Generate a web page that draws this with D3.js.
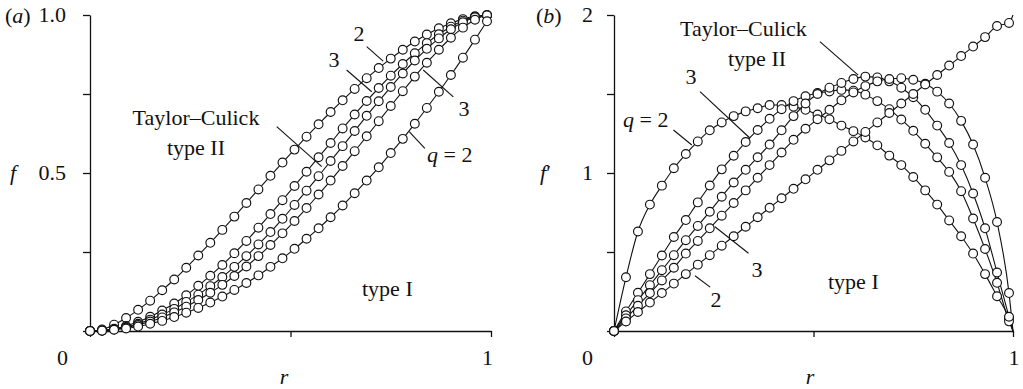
<!DOCTYPE html>
<html>
<head>
<meta charset="utf-8">
<script src="https://cdn.jsdelivr.net/npm/d3@7"></script>
<style>
  html, body { margin: 0; padding: 0; background: #fff; }
  svg { display: block; }
  svg text { font-family: "Liberation Serif", "DejaVu Serif", serif; }
</style>
</head>
<body>
<svg id="chart" width="1023" height="389"></svg>
<script>
// Sample radii (markers every 0.03 from r = 0 to 0.99)
const rSamples = [0, 0.03, 0.06, 0.09, 0.12, 0.15, 0.18, 0.21, 0.24, 0.27, 0.30, 0.33,
  0.36, 0.39, 0.42, 0.45, 0.48, 0.51, 0.54, 0.57, 0.60, 0.63, 0.66, 0.69, 0.72, 0.75,
  0.78, 0.81, 0.84, 0.87, 0.90, 0.93, 0.96, 0.99];

// Profiles f(r)
const fTypeIIq2 = [0, 0.005, 0.020, 0.041, 0.067, 0.096, 0.129, 0.163, 0.200, 0.239, 0.279, 0.320,
  0.362, 0.405, 0.448, 0.491, 0.533, 0.574, 0.615, 0.654, 0.693, 0.730, 0.766, 0.800, 0.832, 0.862,
  0.890, 0.916, 0.938, 0.958, 0.974, 0.987, 0.996, 0.999];
const fTypeIIq3 = [0, 0.002, 0.007, 0.016, 0.029, 0.045, 0.065, 0.087, 0.113, 0.143, 0.175, 0.209,
  0.246, 0.285, 0.327, 0.370, 0.414, 0.459, 0.504, 0.550, 0.595, 0.641, 0.685, 0.728, 0.769, 0.808,
  0.845, 0.879, 0.911, 0.939, 0.963, 0.982, 0.994, 0.999];
const fTaylorCulick = [0, 0.002, 0.006, 0.013, 0.023, 0.036, 0.052, 0.070, 0.092, 0.115, 0.142, 0.171,
  0.203, 0.237, 0.274, 0.313, 0.355, 0.399, 0.444, 0.490, 0.538, 0.585, 0.633, 0.681, 0.727, 0.772,
  0.815, 0.856, 0.893, 0.926, 0.955, 0.977, 0.993, 0.999];
const fTypeIq3 = [0, 0.001, 0.005, 0.011, 0.019, 0.030, 0.043, 0.059, 0.077, 0.098, 0.121, 0.146,
  0.174, 0.204, 0.237, 0.272, 0.309, 0.348, 0.389, 0.432, 0.476, 0.522, 0.569, 0.616, 0.664, 0.712,
  0.759, 0.805, 0.849, 0.890, 0.928, 0.960, 0.985, 0.999];
const fTypeIq2 = [0, 0.001, 0.004, 0.008, 0.014, 0.023, 0.032, 0.044, 0.058, 0.073, 0.090, 0.109,
  0.130, 0.152, 0.176, 0.203, 0.230, 0.260, 0.292, 0.325, 0.360, 0.397, 0.436, 0.476, 0.518, 0.563,
  0.608, 0.656, 0.706, 0.757, 0.810, 0.865, 0.922, 0.980];

// Derivatives f'(r)
const dTypeIIq2 = [0, 0.34, 0.63, 0.80, 0.92, 1.03, 1.12, 1.20, 1.27, 1.32, 1.36, 1.39,
  1.41, 1.43, 1.43, 1.42, 1.40, 1.37, 1.34, 1.30, 1.265, 1.225, 1.175, 1.11, 1.05, 0.975,
  0.89, 0.80, 0.70, 0.60, 0.49, 0.36, 0.22, 0.08];
const dTypeIIq3 = [0, 0.124, 0.242, 0.360, 0.478, 0.595, 0.702, 0.814, 0.921, 1.023, 1.109, 1.196,
  1.272, 1.343, 1.404, 1.455, 1.486, 1.506, 1.516, 1.526, 1.521, 1.496, 1.455, 1.404, 1.338, 1.267,
  1.185, 1.099, 1.007, 0.885, 0.712, 0.519, 0.305, 0.061];
const dTaylorCulick = [0, 0.10, 0.195, 0.29, 0.385, 0.48, 0.575, 0.665, 0.755, 0.85, 0.94, 1.02,
  1.10, 1.18, 1.27, 1.36, 1.44, 1.50, 1.54, 1.57, 1.595, 1.61, 1.605, 1.58, 1.54, 1.48,
  1.40, 1.30, 1.19, 1.05, 0.87, 0.65, 0.37, 0.09];
const dTypeIq3 = [0, 0.08, 0.16, 0.24, 0.32, 0.40, 0.49, 0.57, 0.65, 0.73, 0.81, 0.89,
  0.97, 1.05, 1.13, 1.21, 1.28, 1.34, 1.40, 1.46, 1.51, 1.55, 1.58, 1.595, 1.60, 1.59,
  1.565, 1.515, 1.44, 1.33, 1.18, 0.97, 0.69, 0.24];
const dTypeIq2 = [0, 0.06, 0.12, 0.18, 0.24, 0.30, 0.36, 0.42, 0.48, 0.54, 0.60, 0.66,
  0.72, 0.78, 0.84, 0.90, 0.96, 1.02, 1.08, 1.14, 1.20, 1.26, 1.32, 1.38, 1.44, 1.50,
  1.56, 1.62, 1.68, 1.74, 1.80, 1.86, 1.93, 1.95];

// Values of the smooth solutions at r = 1
const fAtOne = [1, 1, 1, 1, 1];
const dAtOne = [0, 0, 0, 0, 2];

// Axis ticks and labels
const rTicks = [0, 0.5, 1];
const fTicks = [0, 0.25, 0.5, 0.75, 1];
const dTicks = [0, 0.5, 1, 1.5, 2];
const fTickLabels = [{v: 1, t: "1.0"}, {v: 0.5, t: "0.5"}];
const dTickLabels = [{v: 2, t: "2"}, {v: 1, t: "1"}];

const svg = d3.select("#chart");
const FS = 22;
const INK = "#111";
const SERIF = "'Liberation Serif', 'DejaVu Serif', serif";

const panels = [
  {
    xRange: [90, 491], yRange: [331, 15], yDomain: [0, 1], yTicks: fTicks,
    series: [fTypeIIq2, fTypeIIq3, fTaylorCulick, fTypeIq3, fTypeIq2], ends: fAtOne,
    tickLabels: fTickLabels, tickLabelX: 66,
    panelTag: "a", tagX: 5, yName: "f", yNameX: 10, zeroX: 62.5, oneX: 487.5, rX: 284,
    // leader lines in data units: [r0, v0, r1, v1]
    leaders: [
      [0.690, 0.900, 0.731, 0.854],
      [0.640, 0.826, 0.7025, 0.757],
      [0.831, 0.826, 0.906, 0.741],
      [0.796, 0.631, 0.835, 0.578],
      [0.4656, 0.6465, 0.578, 0.520]
    ],
    notes: [
      {x: 359, y: 41, t: "2", anchor: "middle"},
      {x: 334, y: 67, t: "3", anchor: "middle"},
      {x: 464, y: 116, t: "3", anchor: "middle"},
      {x: 427, y: 162, t: "q = 2", anchor: "start", q: true},
      {x: 196, y: 125, t: "Taylor–Culick", anchor: "middle"},
      {x: 196, y: 155, t: "type II", anchor: "middle"},
      {x: 362, y: 296, t: "type I", anchor: "start"}
    ]
  },
  {
    xRange: [614, 1013], yRange: [331, 15], yDomain: [0, 2], yTicks: dTicks,
    series: [dTypeIIq2, dTypeIIq3, dTaylorCulick, dTypeIq3, dTypeIq2], ends: dAtOne,
    tickLabels: dTickLabels, tickLabelX: 593,
    panelTag: "b", tagX: 536, yName: "f′", yNameX: 540, zeroX: 587.5, oneX: 1014, rX: 810,
    leaders: [
      [0.516, 1.831, 0.612, 1.620],
      [0.2155, 1.515, 0.341, 1.220],
      [0.149, 1.272, 0.195, 1.177],
      [0.253, 0.660, 0.337, 0.492],
      [0.203, 0.350, 0.241, 0.278]
    ],
    notes: [
      {x: 680, y: 36, t: "Taylor–Culick", anchor: "start"},
      {x: 728, y: 66, t: "type II", anchor: "start"},
      {x: 623, y: 127, t: "q = 2", anchor: "start", q: true},
      {x: 691, y: 84, t: "3", anchor: "middle"},
      {x: 757, y: 277, t: "3", anchor: "middle"},
      {x: 716, y: 307, t: "2", anchor: "middle"},
      {x: 828, y: 289, t: "type I", anchor: "start"}
    ]
  }
];

function addText(g, x, y, anchor) {
  return g.append("text")
    .attr("x", x).attr("y", y)
    .attr("text-anchor", anchor)
    .attr("font-family", SERIF)
    .attr("font-size", FS)
    .attr("fill", INK);
}

panels.forEach(p => {
  const x = d3.scaleLinear().domain([0, 1]).range(p.xRange);
  const y = d3.scaleLinear().domain(p.yDomain).range(p.yRange);
  const g = svg.append("g");

  // axes
  const yAxis = g.append("g")
    .attr("transform", `translate(${p.xRange[0]},0)`)
    .call(d3.axisLeft(y).tickValues(p.yTicks).tickSize(7).tickSizeOuter(0).tickFormat(""));
  const xAxis = g.append("g")
    .attr("transform", `translate(0,${p.yRange[0]})`)
    .call(d3.axisBottom(x).tickValues(rTicks).tickSize(6).tickSizeOuter(0).tickFormat(""));
  [yAxis, xAxis].forEach(a => {
    a.selectAll("path, line").attr("stroke", INK).attr("stroke-width", 1.3);
  });

  // tick labels
  p.tickLabels.forEach(d => {
    addText(g, p.tickLabelX, y(d.v) + 7, "end").text(d.t);
  });
  addText(g, p.zeroX, 365, "middle").text("0");
  addText(g, p.oneX, 365, "middle").text("1");
  addText(g, p.rX, 384, "middle").attr("font-style", "italic").text("r");

  // panel tag "(a)" / "(b)"
  const tag = addText(g, p.tagX, 23, "start");
  tag.append("tspan").text("(");
  tag.append("tspan").attr("font-style", "italic").text(p.panelTag);
  tag.append("tspan").text(")");

  // y-axis name
  const yn = addText(g, p.yNameX, y((p.yDomain[0] + p.yDomain[1]) / 2) + 7, "start");
  yn.append("tspan").attr("font-style", "italic").text(p.yName[0]);
  if (p.yName.length > 1) yn.append("tspan").text(p.yName.slice(1));

  // leader lines
  g.append("g").selectAll("line").data(p.leaders).join("line")
    .attr("x1", d => x(d[0])).attr("y1", d => y(d[1]))
    .attr("x2", d => x(d[2])).attr("y2", d => y(d[3]))
    .attr("stroke", INK).attr("stroke-width", 1.1);

  // curves
  const line = d3.line()
    .x(d => x(d[0])).y(d => y(d[1]))
    .curve(d3.curveMonotoneX);
  const curves = p.series.map((vals, i) =>
    rSamples.map((r, j) => [r, vals[j]]).concat([[1, p.ends[i]]]));
  g.append("g").selectAll("path").data(curves).join("path")
    .attr("d", line)
    .attr("fill", "none")
    .attr("stroke", INK)
    .attr("stroke-width", 1.1);

  // markers
  p.series.forEach(vals => {
    g.append("g").selectAll("circle").data(rSamples.map((r, j) => [r, vals[j]])).join("circle")
      .attr("cx", d => x(d[0])).attr("cy", d => y(d[1]))
      .attr("r", 4.4)
      .attr("fill", "#fff")
      .attr("stroke", INK)
      .attr("stroke-width", 1.15);
  });

  // annotations
  p.notes.forEach(n => {
    const t = addText(g, n.x, n.y, n.anchor);
    if (n.q) {
      t.append("tspan").attr("font-style", "italic").text("q");
      t.append("tspan").text(n.t.slice(1));
    } else {
      t.text(n.t);
    }
  });
});
</script>
</body>
</html>
